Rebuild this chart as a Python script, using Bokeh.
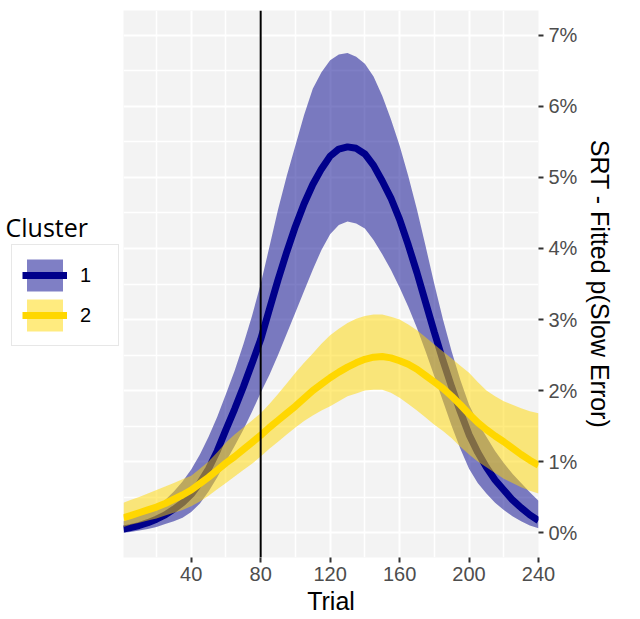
from bokeh.plotting import figure
from bokeh.layouts import row
from bokeh.models import (Range1d, FixedTicker, Span, Legend, LegendItem, Label,
                          ColumnDataSource)
from bokeh.embed import file_html
from bokeh.resources import INLINE

# ---- data, values in percent ----
trial = [1, 5, 10, 15, 20, 25, 30, 35, 40, 45, 50, 55, 60, 65, 70, 75, 80, 85, 90, 95,
         100, 105, 110, 115, 120, 125, 130, 135, 140, 145, 150, 155, 160, 165, 170, 175,
         180, 185, 190, 195, 200, 205, 210, 215, 220, 225, 230, 235, 240]

c1_fit = [0.05, 0.07, 0.10, 0.14, 0.19, 0.25, 0.33, 0.42, 0.54, 0.70, 0.90, 1.15, 1.45,
          1.74, 2.05, 2.38, 2.72, 3.14, 3.56, 3.95, 4.31, 4.63, 4.90, 5.12, 5.30, 5.40,
          5.43, 5.41, 5.33, 5.17, 4.95, 4.71, 4.41, 4.05, 3.66, 3.24, 2.82, 2.42, 2.05,
          1.70, 1.38, 1.13, 0.92, 0.74, 0.60, 0.46, 0.35, 0.25, 0.17]
c1_hi = [0.16, 0.20, 0.25, 0.31, 0.37, 0.46, 0.58, 0.72, 0.89, 1.10, 1.35, 1.63, 1.95,
         2.28, 2.65, 3.05, 3.50, 4.02, 4.55, 5.02, 5.45, 5.88, 6.25, 6.48, 6.65, 6.73,
         6.75, 6.70, 6.60, 6.42, 6.15, 5.82, 5.45, 5.02, 4.55, 4.03, 3.50, 3.00, 2.55,
         2.15, 1.80, 1.55, 1.35, 1.15, 0.98, 0.83, 0.70, 0.57, 0.45]
c1_lo = [0.00, 0.01, 0.03, 0.05, 0.08, 0.12, 0.16, 0.21, 0.29, 0.41, 0.58, 0.78, 1.00,
         1.22, 1.45, 1.70, 1.97, 2.22, 2.50, 2.80, 3.10, 3.40, 3.70, 3.98, 4.20, 4.33,
         4.38, 4.35, 4.28, 4.12, 3.92, 3.70, 3.45, 3.18, 2.88, 2.55, 2.20, 1.85, 1.50,
         1.18, 0.90, 0.70, 0.55, 0.42, 0.32, 0.23, 0.16, 0.10, 0.06]

c2_fit = [0.21, 0.24, 0.28, 0.32, 0.36, 0.41, 0.47, 0.53, 0.60, 0.69, 0.78, 0.88, 0.98,
          1.07, 1.17, 1.27, 1.37, 1.48, 1.58, 1.68, 1.78, 1.89, 2.00, 2.09, 2.18, 2.26,
          2.33, 2.39, 2.44, 2.47, 2.48, 2.46, 2.42, 2.37, 2.30, 2.21, 2.12, 2.03, 1.92,
          1.80, 1.67, 1.55, 1.45, 1.36, 1.28, 1.19, 1.10, 1.02, 0.95]
c2_hi = [0.42, 0.46, 0.50, 0.55, 0.60, 0.65, 0.70, 0.75, 0.80, 0.90, 1.00, 1.13, 1.27,
         1.38, 1.48, 1.58, 1.68, 1.81, 1.95, 2.10, 2.25, 2.39, 2.52, 2.66, 2.78, 2.87,
         2.95, 3.01, 3.05, 3.07, 3.07, 3.04, 3.00, 2.93, 2.85, 2.75, 2.65, 2.55, 2.45,
         2.35, 2.25, 2.12, 2.00, 1.92, 1.85, 1.80, 1.75, 1.71, 1.68]
c2_lo = [0.08, 0.11, 0.14, 0.17, 0.20, 0.24, 0.28, 0.32, 0.37, 0.44, 0.52, 0.61, 0.70,
         0.79, 0.88, 0.97, 1.07, 1.18, 1.28, 1.38, 1.48, 1.57, 1.65, 1.72, 1.78, 1.85,
         1.92, 1.96, 2.00, 2.01, 2.01, 1.97, 1.90, 1.81, 1.72, 1.62, 1.52, 1.43, 1.33,
         1.21, 1.10, 1.00, 0.92, 0.84, 0.76, 0.70, 0.64, 0.59, 0.55]

legend_title = "Cluster"
cluster_labels = ["1", "2"]
cluster_colors = ["#00008B", "#FFD700"]
x_ticks = [40, 80, 120, 160, 200, 240]
x_minor = [20, 60, 100, 140, 180, 220]
y_ticks = [0, 1, 2, 3, 4, 5, 6, 7]
y_minor = [0.5, 1.5, 2.5, 3.5, 4.5, 5.5, 6.5]
y_tick_labels = ["0%", "1%", "2%", "3%", "4%", "5%", "6%", "7%"]
marker_trial = 80

src = ColumnDataSource(dict(trial=trial, c1_fit=c1_fit, c1_hi=c1_hi, c1_lo=c1_lo,
                            c2_fit=c2_fit, c2_hi=c2_hi, c2_lo=c2_lo))
series = [("c1_lo", "c1_hi", "c1_fit"), ("c2_lo", "c2_hi", "c2_fit")]

H = 618

# ---------------- main plot ----------------
p = figure(width=518, height=H,
           x_range=Range1d(1, 240), y_range=Range1d(-0.35, 7.35),
           y_axis_location="right",
           output_backend="svg", toolbar_location=None,
           min_border_left=3, min_border_right=100,
           min_border_top=10, min_border_bottom=61,
           background_fill_color="#F3F3F3", border_fill_color="white",
           outline_line_color=None)

p.xgrid.ticker = FixedTicker(ticks=x_ticks, minor_ticks=x_minor)
p.ygrid.ticker = FixedTicker(ticks=y_ticks, minor_ticks=y_minor)
for g in (p.xgrid[0], p.ygrid[0]):
    g.grid_line_color = "white"
    g.grid_line_width = 2
    g.minor_grid_line_color = "white"
    g.minor_grid_line_width = 1.5

p.xaxis.ticker = FixedTicker(ticks=x_ticks)
p.yaxis.ticker = FixedTicker(ticks=y_ticks)
p.yaxis.major_label_overrides = {t: s for t, s in zip(y_ticks, y_tick_labels)}
p.xaxis.axis_label = "Trial"
p.yaxis.axis_label = "SRT - Fitted p(Slow Error)"
for ax in (p.xaxis[0], p.yaxis[0]):
    ax.axis_line_color = None
    ax.major_tick_line_color = "#333333"
    ax.major_tick_line_width = 2
    ax.major_tick_in = 0
    ax.major_tick_out = 5
    ax.minor_tick_line_color = None
    ax.major_label_text_color = "#4D4D4D"
    ax.major_label_text_font = "Liberation Sans"
    ax.major_label_text_font_size = "20px"
    ax.axis_label_text_font = "Liberation Sans"
    ax.axis_label_text_font_size = "25px"
    ax.axis_label_text_font_style = "normal"
    ax.axis_label_text_color = "black"
p.xaxis.major_label_standoff = 4
p.xaxis.axis_label_standoff = 3
p.yaxis.major_label_standoff = 5
p.yaxis.axis_label_standoff = 6

for (lo, hi, fit), col in zip(series, cluster_colors):
    p.varea(x="trial", y1=lo, y2=hi, source=src, fill_color=col, fill_alpha=0.5)
    p.line(x="trial", y=fit, source=src, line_color=col, line_width=7)

p.add_layout(Span(location=marker_trial, dimension="height",
                  line_color="black", line_width=2))

# ---------------- legend panel (left) ----------------
# its ranges lie outside the data, so the key renderers draw nothing in the panel
lg = figure(width=120, height=H, x_range=Range1d(-20, -10), y_range=Range1d(-20, -10),
            x_axis_type=None, y_axis_type=None,
            output_backend="svg", toolbar_location=None,
            min_border=0, outline_line_color=None,
            background_fill_color="white", border_fill_color="white")
lg.grid.visible = False

key_items = []
for (lo, hi, fit), lab, col in zip(series, cluster_labels, cluster_colors):
    kb = lg.varea(x="trial", y1=lo, y2=hi, source=src, fill_color=col, fill_alpha=0.5)
    kl = lg.line(x="trial", y=fit, source=src, line_color=col, line_width=7)
    key_items.append(LegendItem(label=lab, renderers=[kb, kl]))

legend = Legend(items=key_items, location=(11, 211), orientation="vertical",
                glyph_width=45, glyph_height=40, label_standoff=13, label_width=28,
                padding=10, spacing=0, margin=0,
                border_line_color="#D0D0D0", border_line_width=1,
                background_fill_color="white", background_fill_alpha=1,
                label_text_font="Liberation Sans", label_text_font_size="20px",
                label_text_color="black")
lg.add_layout(legend)

lg.add_layout(Label(x=5, y=331, x_units="screen", y_units="screen", text=legend_title,
                    text_font="Open Sans", text_font_size="25px", text_color="black",
                    text_baseline="alphabetic"))

layout = row(lg, p)
open("out.html", "w").write(file_html(layout, INLINE))
